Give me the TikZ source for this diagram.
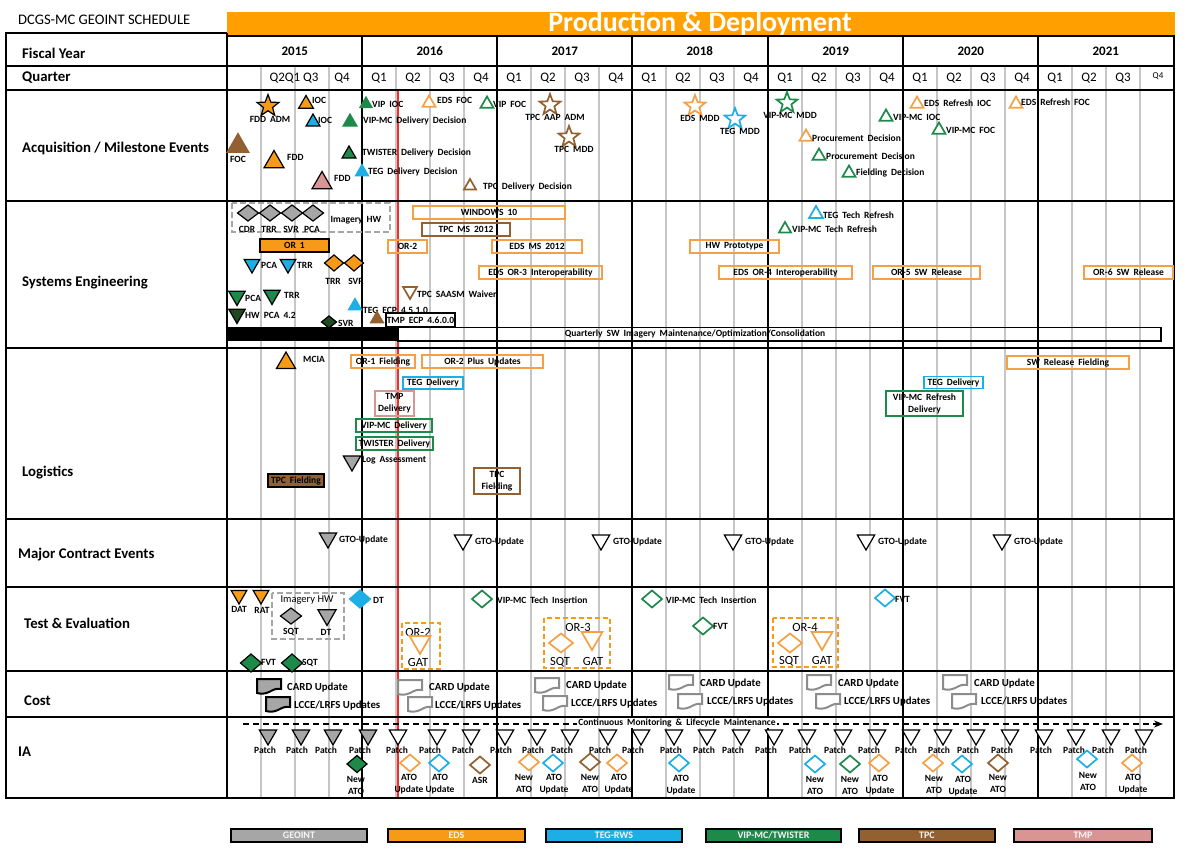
\documentclass[tikz,border=0pt]{standalone}
\usepackage{fontspec}
\setmainfont{Carlito}
\usetikzlibrary{shapes.geometric,arrows.meta}
\definecolor{cGeo}{HTML}{A6A6A6}
\definecolor{cEds}{HTML}{F79A17}
\definecolor{cEdsL}{HTML}{F5A045}
\definecolor{cTeg}{HTML}{1DAEE5}
\definecolor{cVip}{HTML}{1E8A4A}
\definecolor{cTpc}{HTML}{936031}
\definecolor{cTmp}{HTML}{D99594}
\definecolor{cDk}{HTML}{1E4A22}
\definecolor{cBan}{HTML}{FF9F00}
\definecolor{cGrid}{HTML}{C6C6C6}
\definecolor{cDoc}{HTML}{8C8C8C}
\definecolor{cRed}{HTML}{E8322B}
\newcommand\lblfont{\bfseries\fontsize{9.5}{12}\selectfont\spaceskip=0.42em plus 0.1em\relax}
\tikzset{
  lb/.style={font=\lblfont, inner sep=0pt, align=center},
  lw/.style={lb, anchor=west},
  cl/.style={font=\bfseries\fontsize{10.8}{12}\selectfont, anchor=west, inner sep=0pt},
  orf/.style={font=\fontsize{12.5}{13}\selectfont, inner sep=0pt},
  rowlab/.style={font=\bfseries\fontsize{14.8}{16}\selectfont, anchor=west, inner sep=0pt},
  yr/.style={font=\bfseries\fontsize{13}{14}\selectfont, inner sep=0pt},
  qt/.style={font=\fontsize{13}{14}\selectfont, inner sep=0pt},
  mk/.style={inner sep=0pt, outer sep=0pt, line width=1.2pt},
  tU/.style={mk, regular polygon, regular polygon sides=3, minimum size=#1},
  tU/.default=17,
  tD/.style={tU=#1, shape border rotate=180},
  tD/.default=20,
  dm/.style args={#1x#2}{mk, diamond, minimum width=#1, minimum height=#2},
  sr/.style={mk, star, star points=5, star point ratio=2.4, minimum size=#1},
  sr/.default=22,
  fc/.style={fill=#1, draw=black},
  oc/.style={draw=#1, fill=white, line width=1.7pt},
  nc/.style={fill=#1, draw=#1},
  bx/.style={draw=#1, line width=1.5pt, inner sep=0pt, minimum height=13, align=center, font=\lblfont},
  leg/.style={fill=#1, draw=black, line width=1.6pt, minimum height=13, inner sep=0pt, text=white!92!gray, font=\bfseries\fontsize{10}{10}\selectfont},
  qline/.style={cGrid, line width=1.6pt},
  yline/.style={black, line width=2.6pt},
  hline/.style={black, line width=2pt},
  ordash/.style={cEds, line width=1.8pt, dash pattern=on 5pt off 3pt},
  gdash/.style={cGeo, line width=1.8pt, dash pattern=on 6pt off 3pt},
  docp/.pic={\path[pic actions] (0,0) -- (24,0) -- (24,10) .. controls (19,9) and (16,11) .. (12,13) .. controls (8,15) and (4,15) .. (0,14) -- cycle;},
}
\newcommand\iad[6]{\node[dm=20x17,#4] (d#1) at (#2,#3) {}; \node[lb] (dl#1) at (#5) {#6};}
\begin{document}
\begin{tikzpicture}[x=1pt,y=-1pt]
\useasboundingbox (0,0) rectangle (1197,849);
% banner and title
\fill[cBan] (227,12) rectangle (1175,35);
\node[font=\bfseries\fontsize{28}{29}\selectfont, text=white, inner sep=0pt] (ban) at (700,24) {Production \& Deployment};
\node[font=\fontsize{14.6}{15}\selectfont, anchor=west, inner sep=0pt] (ttl) at (18,20) {DCGS-MC GEOINT SCHEDULE};
% grid
\foreach \s in {227,362,497,632,768,903,1038} \foreach \k in {34,68,102} \draw[qline] (\s+\k,66) -- (\s+\k,798);
\draw[cRed, line width=1.6pt] (398,91) -- (398,798);
\foreach \s in {362,497,632,768,903,1038} \draw[yline] (\s,36) -- (\s,798);
\draw[yline] (227,33) -- (227,798);
\draw[hline] (6,33) -- (227,33);
\draw[hline] (227,36) -- (1175,36);
\foreach \y in {66,90,201,348,519,587,671,717,798} \draw[hline] (6,\y) -- (1175,\y);
\draw[hline] (6,32) -- (6,799);
\draw[hline] (1174,35) -- (1174,799);
% row labels
\node[rowlab] (r1) at (22,53) {Fiscal Year};
\node[rowlab] (r2) at (22,78) {Quarter};
\node[rowlab] (r3) at (22,148) {Acquisition / Milestone Events};
\node[rowlab] (r4) at (22,283) {Systems Engineering};
\node[rowlab] (r5) at (22,473) {Logistics};
\node[rowlab] (r6) at (18,555) {Major Contract Events};
\node[rowlab] (r7) at (24,623) {Test \& Evaluation};
\node[rowlab] (r8) at (24,701) {Cost};
\node[rowlab] (r9) at (18,752) {IA};
% years and quarters
\foreach \s/\yy [count=\i] in {227/2015,362/2016,497/2017,632/2018,768/2019,903/2020,1038/2021} \node[yr] (yr\i) at (\s+67.8,51) {\yy};
\node[qt] (q01) at (294,78) {Q2Q1 Q3};
\node[qt] (q04) at (342,78) {Q4};
\foreach \s [count=\i] in {362,497,632,768,903} \foreach \q in {1,2,3,4} \node[qt] (q\i\q) at (\s+34*\q-17,78) {Q\q};
\foreach \q in {1,2,3} \node[qt] (q6\q) at (1038+34*\q-17,78) {Q\q};
\node[font=\fontsize{9}{10}\selectfont, inner sep=0pt] (q64) at (1158,76) {Q4};
% ---------- Acquisition
\node[sr=23, fc=cEds] (a1) at (268,106) {};
\node[lb] (a1t) at (270,119) {FDD ADM};
\node[tU=17, fc=cEds] (a2) at (306,104) {};
\node[lw] (a2t) at (312,100) {IOC};
\node[tU=16, fc=cTeg] (a3) at (313,122) {};
\node[lw] (a3t) at (318,120) {IOC};
\node[tU=25, nc=cTpc] (a4) at (238,146) {};
\node[lb] (a4t) at (238,159) {FOC};
\node[tU=23, fc=cEds] (a5) at (274,162) {};
\node[lw] (a5t) at (287,157) {FDD};
\node[tU=23, fc=cTmp] (a6) at (322,183) {};
\node[lw] (a6t) at (334,178) {FDD};
\node[tU=14, nc=cVip] (a7) at (366,104) {};
\node[lw] (a7t) at (372,104) {VIP IOC};
\node[tU=16, nc=cVip] (a8) at (350,122) {};
\node[lw] (a8t) at (363,121) {VIP-MC Delivery Decision};
\node[tU=16, fc=cVip] (a9) at (349,154) {};
\node[lw] (a9t) at (362,153) {TWISTER Delivery Decision};
\node[tU=15, nc=cTeg] (a10) at (362,172) {};
\node[lw] (a10t) at (368,172) {TEG Delivery Decision};
\node[tU=15, oc=cEdsL] (a11) at (429,103) {};
\node[lw] (a11t) at (437,100) {EDS FOC};
\node[tU=15, oc=cVip] (a12) at (487,104) {};
\node[lw] (a12t) at (493,104) {VIP FOC};
\node[sr=22, oc=cTpc] (a13) at (550,105) {};
\node[lb] (a13t) at (555,117) {TPC AAP ADM};
\node[sr=22, oc=cTpc] (a14) at (569,137) {};
\node[lb] (a14t) at (574,149) {TPC MDD};
\node[tU=14, oc=cTpc] (a15) at (470,186) {};
\node[lw] (a15t) at (483,187) {TPC Delivery Decision};
\node[sr=22, oc=cEdsL] (a16) at (695,106) {};
\node[lb] (a16t) at (700,118) {EDS MDD};
\node[sr=22, oc=cTeg] (a17) at (735,119) {};
\node[lb] (a17t) at (740,131) {TEG MDD};
\node[sr=22, oc=cVip] (a18) at (787,103) {};
\node[lb] (a18t) at (790,115) {VIP-MC MDD};
\node[tU=15, oc=cEdsL] (a19) at (806,137) {};
\node[lw] (a19t) at (812,138) {Procurement Decision};
\node[tU=15, oc=cVip] (a20) at (819,156) {};
\node[lw] (a20t) at (826,156) {Procurement Decision};
\node[tU=15, oc=cVip] (a21) at (849,173) {};
\node[lw] (a21t) at (856,173) {Fielding Decision};
\node[tU=15, oc=cVip] (a22) at (886,117) {};
\node[lw] (a22t) at (893,117) {VIP-MC IOC};
\node[tU=15, oc=cVip] (a23) at (939,130) {};
\node[lw] (a23t) at (946,130) {VIP-MC FOC};
\node[tU=15, oc=cEdsL] (a24) at (917,104) {};
\node[lw] (a24t) at (924,103) {EDS Refresh IOC};
\node[tU=15, oc=cEdsL] (a25) at (1016,104) {};
\node[lw] (a25t) at (1021,102) {EDS Refresh FOC};
% ---------- Systems Engineering
\draw[gdash] (232,203) rectangle (390,232);
\foreach \x/\tx [count=\i] in {248/CDR,270/TRR,292/SVR,313/PCA} {
  \node[dm=21x16, fc=cGeo] (sd\i) at (\x,213) {};
  \node[lb] (sdt\i) at (\x-1,229) {\tx};
}
\node[lb] (shw) at (356,220) {Imagery HW};
\node[bx=black, fill=cEds, minimum width=69] (or1) at (294.5,245.5) {OR 1};
\node[tD=18, fc=cTeg] (s1) at (252,264) {};
\node[lw] (s1t) at (261,265) {PCA};
\node[tD=18, fc=cTeg] (s2) at (288,264) {};
\node[lw] (s2t) at (297,265) {TRR};
\node[dm=19x16, fc=cEds] (s3) at (334,263) {};
\node[lb] (s3t) at (333,281) {TRR};
\node[dm=19x16, fc=cEds] (s4) at (354,263) {};
\node[lb] (s4t) at (356,281) {SVR};
\node[tD=19, fc=cVip] (s5) at (237,296) {};
\node[lw] (s5t) at (245,298) {PCA};
\node[tD=19, fc=cVip] (s6) at (272,295) {};
\node[lw] (s6t) at (284,295) {TRR};
\node[tD=19, fc=cDk] (s7) at (237,314) {};
\node[lw] (s7t) at (245,315) {HW PCA 4.2};
\node[dm=15x12, fc=cDk] (s8) at (329,322) {};
\node[lw] (s8t) at (338,323) {SVR};
\node[tU=15, nc=cTeg] (s9) at (355,306) {};
\node[lw] (s9t) at (363,310) {TEG ECP 4.5.1.0};
\node[tU=15, nc=cTpc] (s10) at (377,319) {};
\node[bx=black, line width=1.2pt, fill=white, minimum width=69, minimum height=14] (s11) at (420.5,320) {TMP ECP 4.6.0.0};
\node[tD=16, oc=cTpc] (s12) at (410,291) {};
\node[lw] (s12t) at (417,294) {TPC SAASM Waiver};
\node[tU=14, oc=cVip] (s13) at (785,229) {};
\node[lw] (s13t) at (792,229) {VIP-MC Tech Refresh};
\node[tU=16, oc=cTeg] (s14) at (816,214) {};
\node[lw] (s14t) at (823,215) {TEG Tech Refresh};
\node[bx=cEdsL, minimum width=152] (b1) at (489,212.5) {WINDOWS 10};
\node[bx=cTpc, minimum width=88] (b2) at (466,229.5) {TPC MS 2012};
\node[bx=cEdsL, minimum width=39] (b3) at (407.5,246.5) {OR-2};
\node[bx=cEdsL, minimum width=90] (b4) at (537,246.5) {EDS MS 2012};
\node[bx=cEdsL, minimum width=123] (b5) at (540.5,272.5) {EDS OR-3 Interoperability};
\node[bx=cEdsL, minimum width=89] (b6) at (734.5,246.5) {HW Prototype};
\node[bx=cEdsL, minimum width=133] (b7) at (785.5,272.5) {EDS OR-4 Interoperability};
\node[bx=cEdsL, minimum width=107] (b8) at (926.5,272.5) {OR-5 SW Release};
\node[bx=cEdsL, minimum width=89] (b9) at (1128.5,272.5) {OR-6 SW Release};
\fill (227,327) rectangle (398,341);
\draw[line width=1.3pt] (398,327.5) rectangle (1161,341);
\node[lb] (qsw) at (695,334) {Quarterly SW Imagery Maintenance/Optimization/Consolidation};
% ---------- Logistics
\node[tU=22, fc=cEds] (l1) at (286,363) {};
\node[lw] (l1t) at (303,359) {MCIA};
\node[bx=cEdsL, minimum width=64] (l2) at (383,361.5) {OR-1 Fielding};
\node[bx=cEdsL, minimum width=121] (l3) at (482.5,361.5) {OR-2 Plus Updates};
\node[bx=cTeg, minimum width=60, minimum height=12] (l4) at (433,383) {TEG Delivery};
\node[bx=cTmp, minimum width=39, minimum height=25] (l5) at (394.5,403.5) {TMP\\Delivery};
\node[bx=cVip, minimum width=76] (l6) at (394,425.5) {VIP-MC Delivery};
\node[bx=cVip, minimum width=77] (l7) at (394.5,443.5) {TWISTER Delivery};
\node[tD=20, fc=cGeo] (l8) at (352,461) {};
\node[lw] (l8t) at (362,460) {Log Assessment};
\node[bx=black, fill=cTpc, minimum width=56] (l9) at (296,480.5) {TPC Fielding};
\node[bx=cTpc, minimum width=46, minimum height=26] (l10) at (497,481) {TPC\\Fielding};
\node[bx=cEdsL, minimum width=122] (l11) at (1068,362.5) {SW Release Fielding};
\node[bx=cTeg, minimum width=59, minimum height=12] (l12) at (953.5,382.5) {TEG Delivery};
\node[bx=cVip, minimum width=77, minimum height=25] (l13) at (924.5,403.5) {VIP-MC Refresh\\Delivery};
% ---------- Major contract events
\node[tD=20, fc=cGeo] (m0) at (328,538) {};
\node[lw] (mt0) at (339,540) {GTO-Update};
\foreach \x [count=\i] in {463,601,733,866,1002} {
  \node[tD=20, fc=white] (m\i) at (\x,540) {};
  \node[lw] (mt\i) at (\x+12,542) {GTO-Update};
}
% ---------- Test & Evaluation
\node[tD=18, fc=cEds] (t1) at (239,595) {};
\node[lb] (t1t) at (239,609) {DAT};
\node[tD=18, fc=cEds] (t2) at (261,595) {};
\node[lb] (t2t) at (262,610) {RAT};
\draw[gdash] (272,593) rectangle (344,639);
\node[font=\fontsize{10.5}{12}\selectfont, inner sep=0pt] (thw) at (307,600) {Imagery HW};
\node[dm=21x16, fc=cGeo] (t3) at (291,616) {};
\node[lb] (t3t) at (291,632) {SQT};
\node[tD=21, fc=cGeo] (t4) at (327,615) {};
\node[lb] (t4t) at (326,632) {DT};
\node[dm=21x18, nc=cTeg] (t5) at (360,599) {};
\node[lw] (t5t) at (373,600) {DT};
\node[dm=21x18, fc=cVip] (t6) at (251,663) {};
\node[lw] (t6t) at (261,662) {FVT};
\node[dm=21x18, fc=cVip] (t7) at (292,663) {};
\node[lw] (t7t) at (302,663) {SQT};
\node[dm=20x17, oc=cVip] (t8) at (482,599) {};
\node[lw] (t8t) at (497,600) {VIP-MC Tech Insertion};
\node[dm=20x17, oc=cVip] (t9) at (652,599) {};
\node[lw] (t9t) at (666,600) {VIP-MC Tech Insertion};
\node[dm=20x17, oc=cVip] (t10) at (703,626) {};
\node[lw] (t10t) at (713,626) {FVT};
\node[dm=20x17, oc=cTeg] (t11) at (885,598) {};
\node[lw] (t11t) at (895,599) {FVT};
\draw[ordash] (402,623) rectangle (440,669);
\node[orf] (o2) at (418,632) {OR-2};
\node[tD=24, oc=cEdsL] (o2g) at (420,642) {};
\node[orf] (o2t) at (418,662) {GAT};
\draw[ordash] (544,618) rectangle (610,668);
\node[orf] (o3) at (578,627) {OR-3};
\node[dm=24x19, oc=cEdsL] (o3s) at (561,643) {};
\node[tD=24, oc=cEdsL] (o3g) at (592,638) {};
\node[orf] (o3st) at (560,662) {SQT};
\node[orf] (o3gt) at (593,661) {GAT};
\draw[ordash] (773,618) rectangle (838,667);
\node[orf] (o4) at (805,627) {OR-4};
\node[dm=24x19, oc=cEdsL] (o4s) at (790,643) {};
\node[tD=24, oc=cEdsL] (o4g) at (822,638) {};
\node[orf] (o4st) at (789,661) {SQT};
\node[orf] (o4gt) at (822,660) {GAT};
% ---------- Cost
\pic[draw=black, fill=cGeo, line width=2pt] at (257,679) {docp};
\pic[draw=black, fill=cGeo, line width=2pt] at (266,697) {docp};
\foreach \x/\y in {398/680,535/678,669/675,807/675,943/675,408/697,543/696,678/694,816/694,952/694}
  \pic[draw=cDoc, fill=white, line width=2pt] at (\x,\y) {docp};
\foreach \x/\y [count=\i] in {287/688,429/688,566/686,700/684,838/684,974/684}
  \node[cl] (cc\i) at (\x,\y) {CARD Update};
\foreach \x/\y [count=\i] in {294/706,435/706,571/704,707/702,844/702,981/702}
  \node[cl] (cu\i) at (\x,\y) {LCCE/LRFS Updates};
% ---------- IA
\coordinate (iaS) at (243,724);
\coordinate (iaE) at (1163,724);
\draw[line width=1.6pt, dash pattern=on 6pt off 4pt, -{Stealth[length=9pt,width=7pt]}] (iaS) -- (iaE);
\node[lb, fill=white, inner sep=1pt] (cml) at (677,723) {Continuous Monitoring \& Lifecycle Maintenance};
\foreach \x/\lx [count=\i] in {268/265,301/297,333/326,368/360} {
  \node[tD=20, fc=cGeo] (pg\i) at (\x,735) {};
  \node[lb] (pgt\i) at (\lx,750) {Patch};
}
\foreach \x/\lx [count=\i] in {398/397,437/430,471/463,505/501,537/533,570/562,608/600,641/633,674/671,707/704,741/733,774/766,807/800,843/835,877/869,911/906,943/939,976/968,1010/1002,1044/1041,1076/1074,1111/1103,1144/1136} {
  \node[tD=20, fc=white] (pw\i) at (\x,735) {};
  \node[lb] (pwt\i) at (\lx,750) {Patch};
}
\iad{1}{357}{764}{fc=cVip}{356,785}{New\\ATO}
\iad{2}{410}{763}{oc=cEdsL}{409,784}{ATO\\Update}
\iad{3}{439}{763}{oc=cTeg}{440,784}{ATO\\Update}
\iad{4}{480}{765}{oc=cTpc}{480,780}{ASR}
\iad{5}{529}{762}{oc=cEdsL}{524,783}{New\\ATO}
\iad{6}{553}{763}{oc=cTeg}{554,784}{ATO\\Update}
\iad{7}{590}{762}{oc=cTpc}{590,783}{New\\ATO}
\iad{8}{617}{763}{oc=cEdsL}{619,784}{ATO\\Update}
\iad{9}{679}{763}{oc=cTeg}{681,785}{ATO\\Update}
\iad{10}{815}{764}{oc=cTeg}{815,785}{New\\ATO}
\iad{11}{850}{764}{oc=cVip}{850,785}{New\\ATO}
\iad{12}{879}{763}{oc=cEdsL}{880,785}{ATO\\Update}
\iad{13}{933}{763}{oc=cEdsL}{934,784}{New\\ATO}
\iad{14}{962}{764}{oc=cTeg}{963,786}{ATO\\Update}
\iad{15}{998}{763}{oc=cTpc}{998,783}{New\\ATO}
\iad{16}{1087}{759}{oc=cTeg}{1088,781}{New\\ATO}
\iad{17}{1132}{763}{oc=cEdsL}{1133,784}{ATO\\Update}
% ---------- Legend
\node[leg=cGeo, minimum width=136] (g1) at (299,835.5) {GEOINT};
\node[leg=cEds, minimum width=137] (g2) at (456.5,835.5) {EDS};
\node[leg=cTeg, minimum width=136] (g3) at (614,835.5) {TEG-RWS};
\node[leg=cVip, minimum width=135] (g4) at (773.5,835.5) {VIP-MC/TWISTER};
\node[leg=cTpc, minimum width=136] (g5) at (927,835.5) {TPC};
\node[leg=cTmp, minimum width=138] (g6) at (1083,835.5) {TMP};
\end{tikzpicture}
\end{document}
